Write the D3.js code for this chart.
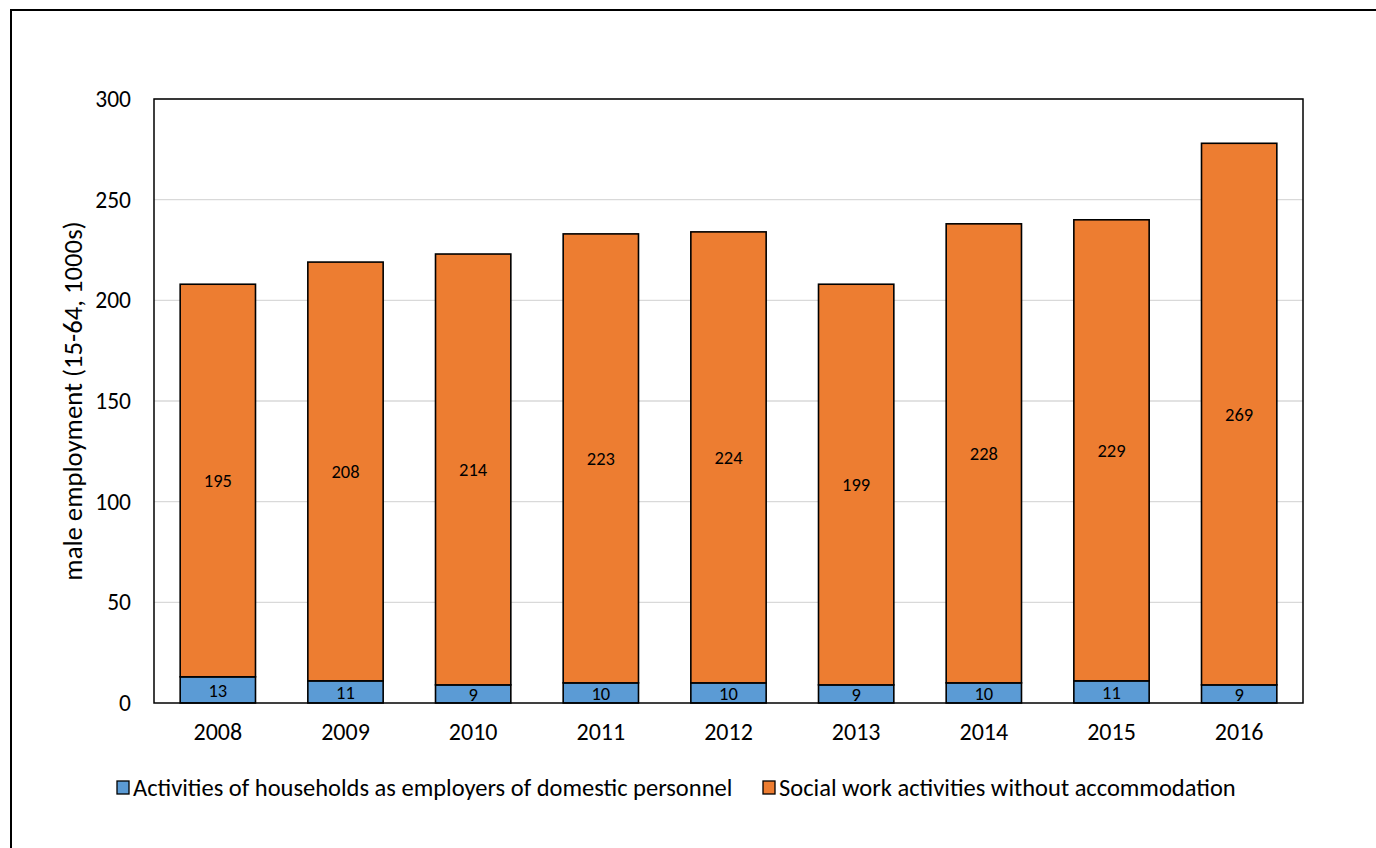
<!DOCTYPE html>
<html><head><meta charset="utf-8">
<script src="https://cdn.jsdelivr.net/npm/d3@7"></script>
<style>body{margin:0;background:#fff}svg{display:block}text{font-family:Carlito,Lato,"Liberation Sans",sans-serif;fill:#000}</style>
</head><body>
<script>
const years = ["2008","2009","2010","2011","2012","2013","2014","2015","2016"];
const households = [13,11,9,10,10,9,10,11,9];
const socialWork = [195,208,214,223,224,199,228,229,269];
const seriesNames = ["Activities of households as employers of domestic personnel","Social work activities without accommodation"];
const seriesColors = ["#5B9BD5","#ED7D31"];
const yTicks = [0,50,100,150,200,250,300];

const W=1376,H=848;
const svg=d3.select("body").append("svg").attr("width",W).attr("height",H);
svg.append("rect").attr("x",11).attr("y",10).attr("width",W).attr("height",H).attr("fill","none").attr("stroke","#000").attr("stroke-width",2);

const L=154,T=99,R=1303,B=703;
const x=d3.scaleBand().domain(years).range([L,R]).paddingInner(0.41).paddingOuter(0.205);
const y=d3.scaleLinear().domain([0,300]).range([B,T]);

const g=svg.append("g");
g.selectAll("line.grid").data(yTicks.slice(1)).join("line")
 .attr("x1",L).attr("x2",R).attr("y1",d=>y(d)).attr("y2",d=>y(d))
 .attr("stroke","#d9d9d9").attr("stroke-width",1.3);

const yAxis=svg.append("g").attr("transform",`translate(${L},0)`)
 .call(d3.axisLeft(y).tickValues(yTicks).tickSize(0).tickPadding(23));
yAxis.select(".domain").remove();
yAxis.selectAll("text").attr("font-size","23.5px").attr("font-family","Carlito,Lato,sans-serif");

const xAxis=svg.append("g").attr("transform",`translate(0,${B})`)
 .call(d3.axisBottom(x).tickSize(0).tickPadding(20));
xAxis.select(".domain").remove();
xAxis.selectAll("text").attr("font-size","24px").attr("font-family","Carlito,Lato,sans-serif");

const data=years.map((yr,i)=>({year:yr,h:households[i],s:socialWork[i]}));
const stack=d3.stack().keys(["h","s"])(data);
stack.forEach((layer,li)=>{
  const lg=svg.append("g");
  lg.selectAll("rect").data(layer).join("rect")
   .attr("x",d=>x(d.data.year)).attr("width",x.bandwidth())
   .attr("y",d=>y(d[1])).attr("height",d=>y(d[0])-y(d[1]))
   .attr("fill",seriesColors[li]).attr("stroke","#000").attr("stroke-width",1.6);
  lg.selectAll("text").data(layer).join("text")
   .attr("x",d=>x(d.data.year)+x.bandwidth()/2).attr("y",d=>(y(d[0])+y(d[1]))/2)
   .attr("text-anchor","middle").attr("dy","0.36em").attr("font-size","18.5px")
   .text(d=>d[1]-d[0]);
});

svg.append("rect").attr("x",L).attr("y",T).attr("width",R-L).attr("height",B-T)
 .attr("fill","none").attr("stroke","#000").attr("stroke-width",1.5);

svg.append("text").attr("transform",`translate(82,${(T+B)/2}) rotate(-90)`)
 .attr("text-anchor","middle").attr("font-size","26.7px").text("male employment (15-64, 1000s)");

const legX=[117,763];
seriesNames.forEach((n,i)=>{
  svg.append("rect").attr("x",legX[i]).attr("y",781).attr("width",12).attr("height",13)
   .attr("fill",seriesColors[i]).attr("stroke","#000").attr("stroke-width",1.3);
  svg.append("text").attr("x",legX[i]+16).attr("y",787).attr("dy","0.35em").attr("font-size","24.5px").text(n);
});
</script>
</body></html>
